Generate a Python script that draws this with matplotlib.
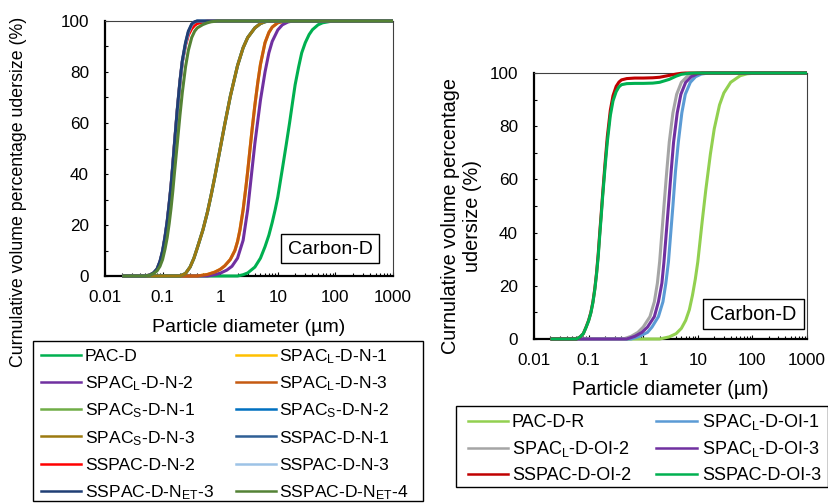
import matplotlib
matplotlib.use("Agg")
import matplotlib.pyplot as plt
from matplotlib.lines import Line2D
from matplotlib.patches import Rectangle
from matplotlib.ticker import FixedLocator, NullFormatter, LogLocator

plt.rcParams['font.family'] = ['Liberation Sans', 'DejaVu Sans']
plt.rcParams['mathtext.fontset'] = 'custom'
plt.rcParams['mathtext.rm'] = 'Liberation Sans'
plt.rcParams['mathtext.it'] = 'Liberation Sans:italic'
plt.rcParams['mathtext.bf'] = 'Liberation Sans:bold'

W, H = 829, 504

# ---------------- data: left panel ----------------
pac_d_x = [0.02, 2.0, 2.5, 3, 4, 5, 6, 7, 8, 9, 10, 12, 14, 16, 18, 20, 23, 26, 30, 35, 40, 50, 60, 80, 100, 1000]
pac_d_y = [0, 0, 0.5, 1.2, 3.5, 7, 11.5, 16, 21, 26, 31, 42, 51.5, 60, 68, 75, 82, 87.5, 91.5, 94.7, 96.6, 98.5, 99.3, 99.8, 100, 100]

spacl_n1_x = [0.02, 0.4, 0.6, 0.8, 1.0, 1.2, 1.5, 1.8, 2.0, 2.2, 2.5, 2.8, 3.0, 3.3, 3.6, 4.0, 4.5, 5.0, 6.0, 7.0, 8.0, 10, 13, 1000]
spacl_n1_y = [0, 0, 0.6, 1.5, 2.6, 4, 6.5, 10, 13.5, 18, 26, 35, 41, 50, 58, 67, 76, 83, 91.5, 95.5, 97.6, 99.3, 100, 100]

spacl_n2_x = [0.02, 0.6, 0.8, 1.0, 1.3, 1.6, 2.0, 2.5, 3.0, 3.5, 4.0, 4.5, 5.0, 6.0, 7.0, 8.0, 10, 12, 15, 18, 1000]
spacl_n2_y = [0, 0, 0.5, 1.1, 2.3, 3.8, 7, 14, 26, 40, 52, 61, 69, 80, 87.5, 92, 96.5, 98.5, 99.6, 100, 100]

spacl_n3_x = [0.02, 0.4, 0.6, 0.8, 1.0, 1.2, 1.5, 1.8, 2.0, 2.2, 2.5, 2.8, 3.0, 3.3, 3.6, 4.0, 4.5, 5.0, 6.0, 7.0, 8.0, 10, 13, 1000]
spacl_n3_y = [0, 0, 0.6, 1.5, 2.6, 4, 6.5, 10, 13.5, 18, 26, 35, 41, 50, 58, 67, 76, 83, 91.5, 95.5, 97.6, 99.3, 100, 100]

spacs_x = [0.02, 0.2, 0.25, 0.3, 0.35, 0.4, 0.5, 0.6, 0.7, 0.8, 1.0, 1.2, 1.5, 2.0, 2.5, 3.0, 4.0, 5.0, 6.0, 7.0, 1000]
spacs_n1_y = [0, 0, 1, 3.5, 7, 11, 18, 25, 32, 38.5, 50, 59.5, 70.5, 82.5, 89.5, 93.5, 97.3, 99, 99.7, 100, 100]
spacs_n2_y = [0, 0, 1, 3.5, 7, 11, 18, 25, 32, 38.5, 50, 59.5, 70.5, 82.5, 89.5, 93.5, 97.3, 99, 99.7, 100, 100]
spacs_n3_y = [0, 0, 1, 3.5, 7, 11, 18, 25, 32, 38.5, 50, 59.5, 70.5, 82.5, 89.5, 93.5, 97.3, 99, 99.7, 100, 100]

fine_x = [0.02, 0.05, 0.06, 0.07, 0.08, 0.09, 0.1, 0.11, 0.12, 0.13, 0.14, 0.15, 0.16, 0.18, 0.2, 0.22, 0.25, 0.28, 0.32, 0.36, 0.4, 0.5, 0.6, 1000]
sspac_n1_y = [0, 0, 0.4, 1.2, 2.6, 5.5, 9.5, 15, 21, 28, 35, 43, 51, 65, 76, 84, 91, 95.5, 98.5, 99.6, 100, 100, 100, 100]
sspac_n2_y = [0, 0, 0.4, 1.2, 2.6, 5.5, 9.5, 15, 21, 28, 35, 43, 51, 65, 76, 84, 90.5, 94.5, 97, 98.3, 99, 99.6, 100, 100]
sspac_n3_y = [0, 0, 0.4, 1.2, 2.6, 5.5, 9.5, 15, 21, 28, 35, 43, 51, 65, 76, 84, 91, 95.5, 98.5, 99.6, 100, 100, 100, 100]
sspac_net3_y = [0, 0, 0.4, 1.3, 2.8, 5.8, 10, 15.5, 21.5, 28.5, 35.5, 43.5, 51.5, 65.5, 76.5, 84.5, 91.5, 96, 98.8, 99.7, 100, 100, 100, 100]

net4_x = [0.02, 0.05, 0.06, 0.07, 0.08, 0.09, 0.1, 0.11, 0.12, 0.13, 0.14, 0.15, 0.16, 0.18, 0.2, 0.22, 0.25, 0.28, 0.32, 0.36, 0.4, 0.5, 0.6, 0.7, 0.9, 1000]
net4_y = [0, 0, 0.3, 1, 2, 3.8, 6.5, 10.5, 15, 20.5, 26.5, 33, 40, 52, 63, 72, 82, 88.5, 93.5, 96, 97.3, 98.6, 99.3, 99.7, 100, 100]

left_labels = ["PAC-D", r"SPAC$_\mathregular{L}$-D-N-1", r"SPAC$_\mathregular{L}$-D-N-2",
               r"SPAC$_\mathregular{L}$-D-N-3", r"SPAC$_\mathregular{S}$-D-N-1", r"SPAC$_\mathregular{S}$-D-N-2",
               r"SPAC$_\mathregular{S}$-D-N-3", "SSPAC-D-N-1", "SSPAC-D-N-2", "SSPAC-D-N-3",
               r"SSPAC-D-N$_\mathregular{ET}$-3", r"SSPAC-D-N$_\mathregular{ET}$-4"]
left_colors = ["#00B050", "#FFC000", "#7030A0", "#C55A11", "#70AD47", "#0070C0",
               "#9C7A10", "#2F5F95", "#FF0000", "#9DC3E6", "#203F75", "#548235"]
left_series = [(pac_d_x, pac_d_y), (spacl_n1_x, spacl_n1_y), (spacl_n2_x, spacl_n2_y),
               (spacl_n3_x, spacl_n3_y), (spacs_x, spacs_n1_y), (spacs_x, spacs_n2_y),
               (spacs_x, spacs_n3_y), (fine_x, sspac_n1_y), (fine_x, sspac_n2_y),
               (fine_x, sspac_n3_y), (fine_x, sspac_net3_y), (net4_x, net4_y)]

# ---------------- data: right panel ----------------
pacdr_x = [0.02, 2.0, 3, 4, 5, 6, 7, 8, 9, 10, 12, 14, 17, 20, 25, 30, 40, 60, 80, 120, 1000]
pacdr_y = [0, 0, 0.8, 2, 4, 7, 11, 16.5, 22.5, 29, 44, 56, 69.5, 79, 88, 92.5, 96.5, 99, 99.7, 100, 100]

oi1_x = [0.02, 0.6, 0.85, 1.2, 1.45, 1.9, 2.3, 2.6, 2.9, 3.2, 3.5, 3.9, 4.4, 5.1, 5.9, 7.3, 9.1, 11.6, 16, 1000]
oi2_x = [0.02, 0.43, 0.6, 0.8, 1.0, 1.33, 1.6, 1.82, 2.0, 2.2, 2.4, 2.7, 3.0, 3.5, 4.1, 5.0, 6.3, 8.0, 10, 1000]
oi3_x = [0.02, 0.5, 0.7, 0.95, 1.2, 1.6, 1.9, 2.2, 2.4, 2.65, 2.9, 3.25, 3.6, 4.2, 4.9, 6.0, 7.6, 9.6, 12, 1000]
oi1_y = [0, 0, 1, 2.5, 4.5, 8.4, 14, 21, 29, 40, 50, 63, 74, 85, 92, 96.5, 98.6, 99.6, 100, 100]
oi2_y = [0, 0, 1, 2.5, 4.5, 8.4, 14, 21, 29, 40, 50, 63, 74, 85, 92, 96.5, 98.6, 99.6, 100, 100]
oi3_y = [0, 0, 1, 2.5, 4.5, 8.4, 14, 21, 29, 40, 50, 63, 74, 85, 92, 96.5, 98.6, 99.6, 100, 100]

ss_oi2_x = [0.02, 0.06, 0.07, 0.08, 0.09, 0.1, 0.11, 0.12, 0.13, 0.14, 0.15, 0.16, 0.17, 0.18, 0.2, 0.22, 0.25, 0.28, 0.32, 0.36, 0.4, 0.5, 0.7, 1.0, 1.5, 2.0, 3.0, 4.0, 5.0, 6.0, 1000]
ss_oi2_y = [0, 0, 0.8, 2, 4.5, 7, 10, 14, 19, 25, 32, 40, 47, 54, 66, 76, 86, 91.5, 95, 96.6, 97.4, 97.9, 98.1, 98.1, 98.2, 98.4, 99.1, 99.6, 99.9, 100, 100]
ss_oi3_x = [0.02, 0.06, 0.07, 0.08, 0.09, 0.1, 0.11, 0.12, 0.13, 0.14, 0.15, 0.16, 0.17, 0.18, 0.2, 0.22, 0.25, 0.28, 0.32, 0.36, 0.4, 0.5, 0.7, 1.0, 1.5, 2.0, 3.0, 4.0, 5.0, 7.0, 9.0, 1000]
ss_oi3_y = [0, 0, 0.8, 2, 4.4, 6.8, 9.8, 13.7, 18.6, 24.5, 31, 39, 46, 53, 64.5, 74, 84, 89.5, 93, 94.8, 95.6, 96, 96.1, 96.1, 96.2, 96.5, 97.6, 98.8, 99.5, 99.9, 100, 100]

right_labels = ["PAC-D-R", r"SPAC$_\mathregular{L}$-D-OI-1", r"SPAC$_\mathregular{L}$-D-OI-2",
                r"SPAC$_\mathregular{L}$-D-OI-3", "SSPAC-D-OI-2", "SSPAC-D-OI-3"]
right_colors = ["#92D050", "#5B9BD5", "#A5A5A5", "#7030A0", "#C00000", "#00B050"]
right_series = [(pacdr_x, pacdr_y), (oi1_x, oi1_y), (oi2_x, oi2_y), (oi3_x, oi3_y),
                (ss_oi2_x, ss_oi2_y), (ss_oi3_x, ss_oi3_y)]

xticks = [0.01, 0.1, 1, 10, 100, 1000]
xticklabels = ["0.01", "0.1", "1", "10", "100", "1000"]
yticks = [0, 20, 40, 60, 80, 100]
yticklabels = ["0", "20", "40", "60", "80", "100"]


def fx(x):
    return x / W


def fy(y):
    return 1 - y / H


fig = plt.figure(figsize=(W / 100, H / 100), dpi=100)


def make_axes(l, t, r, b):
    ax = fig.add_axes([fx(l), fy(b), fx(r) - fx(l), fy(t) - fy(b)])
    ax.set_xscale('log')
    ax.set_xlim(0.01, 1000)
    ax.set_ylim(0, 100)
    ax.xaxis.set_major_locator(FixedLocator(xticks))
    ax.set_xticklabels(xticklabels)
    ax.xaxis.set_minor_locator(LogLocator(base=10, subs=range(2, 10), numticks=20))
    ax.xaxis.set_minor_formatter(NullFormatter())
    ax.yaxis.set_major_locator(FixedLocator(yticks))
    ax.set_yticklabels(yticklabels)
    ax.yaxis.set_minor_locator(FixedLocator([10, 30, 50, 70, 90]))
    ax.tick_params(axis='both', which='both', direction='in', width=0.8, color='black')
    ax.tick_params(axis='y', which='both', length=2.5, pad=11.5, labelsize=12.3)
    ax.tick_params(axis='x', which='major', length=3, pad=10, labelsize=12.3)
    ax.tick_params(axis='x', which='minor', length=2.5)
    for s in ['left', 'bottom']:
        ax.spines[s].set_linewidth(1.6)
        ax.spines[s].set_color('black')
    for s in ['top', 'right']:
        ax.spines[s].set_linewidth(0.8)
        ax.spines[s].set_color('#404040')
    return ax


axL = make_axes(105, 21, 393, 276)
for (xs, ys), c in zip(left_series, left_colors):
    axL.plot(xs, ys, color=c, lw=2.2, clip_on=False, zorder=3, solid_capstyle='butt')

axR = make_axes(534, 73, 807, 339)
for (xs, ys), c in zip(right_series, right_colors):
    axR.plot(xs, ys, color=c, lw=2.2, clip_on=False, zorder=3, solid_capstyle='butt')

# axis labels
fig.text(fx(249), fy(332), "Particle diameter (µm)", ha='center', va='baseline', fontsize=14)
fig.text(fx(670), fy(395), "Particle diameter (µm)", ha='center', va='baseline', fontsize=14.3)
fig.text(fx(19), fy(192), "Curnulative volume percentage udersize (%)", rotation=90,
         ha='center', va='center', fontsize=12.8)
fig.text(fx(462), fy(216), "Curnulative volume percentage\nudersize (%)", rotation=90,
         ha='center', va='center', fontsize=14.3, linespacing=1.2, multialignment='center')

# Carbon-D boxes
for (l, t, r, b), fs in [((281, 234, 379, 263), 14), ((703, 299, 804, 329), 14.3)]:
    fig.add_artist(Rectangle((fx(l), fy(b)), fx(r) - fx(l), fy(t) - fy(b), transform=fig.transFigure,
                             facecolor='white', edgecolor='black', lw=1.0, zorder=5))
    fig.text(fx((l + r) / 2), fy((t + b) / 2 + 1), "Carbon-D", ha='center', va='center', fontsize=fs, zorder=6)


def draw_legend(box, labels, colors, row0, dy, cols, fs, base_off):
    l, t, r, b = box
    fig.add_artist(Rectangle((fx(l), fy(b)), fx(r) - fx(l), fy(t) - fy(b), transform=fig.transFigure,
                             facecolor='white', edgecolor='black', lw=1.0, zorder=4))
    for i, (lab, c) in enumerate(zip(labels, colors)):
        row, col = divmod(i, 2)
        h0, h1, tx = cols[col]
        y = row0 + row * dy
        fig.add_artist(Line2D([fx(h0), fx(h1)], [fy(y), fy(y)], transform=fig.transFigure,
                              color=c, lw=1.8, zorder=5))
        fig.text(fx(tx), fy(y + base_off), lab, ha='left', va='baseline', fontsize=fs, zorder=6)


draw_legend((33, 341, 423, 501), left_labels, left_colors, 354.5, 27.3,
            [(41, 81, 85), (236, 276, 279)], 12.6, 6.5)
draw_legend((456, 406, 828, 487), right_labels, right_colors, 421, 26.7,
            [(468, 508, 512), (656, 697, 702)], 13, 6)

fig.savefig("out.png", dpi=100)
